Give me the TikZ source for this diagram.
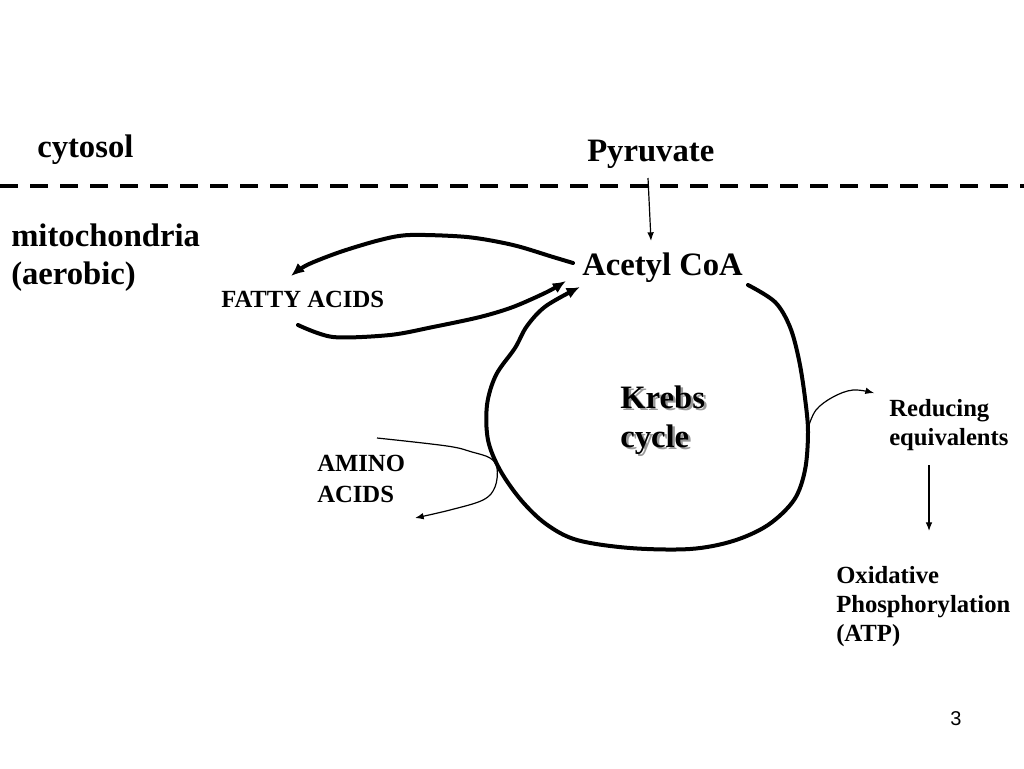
\documentclass[tikz,border=0pt]{standalone}
\usepackage{fontspec}
\setmainfont{Liberation Serif}
\newfontfamily\pagefont{Liberation Sans}
\usetikzlibrary{arrows.meta}

\newcommand{\shadowed}[1]{\makebox[0pt][l]{\kern1.9pt\raisebox{-1.9pt}{\color{black!40}#1}}#1}

\tikzset{
  bigtext/.style={inner sep=0pt, anchor=base west, align=left, font=\bfseries\fontsize{24.5}{28.5}\selectfont},
  smalltext/.style={inner sep=0pt, anchor=base west, align=left, font=\bfseries\fontsize{18.5}{21.75}\selectfont},
  heavy/.style={line width=3pt, line cap=round, line join=round},
  heavyarrow/.style={heavy, -{Latex[length=10pt,width=8.5pt]}},
  thinarrow/.style={line width=0.9pt, -{Latex[length=6.5pt,width=5pt]}},
}

\begin{document}
\begin{tikzpicture}[x=0.75pt,y=0.75pt,yscale=-1,xscale=1]
\useasboundingbox (0,0) rectangle (1024,768);

% membrane
\draw [line width=3pt, dash pattern=on 13.5pt off 9pt] (0,186) -- (1024,186);

% Text Nodes (base = last line)
\node [bigtext] (cytosol) at (37,157) {cytosol};
\node [bigtext] (mito) at (11,284) {mitochondria\\(aerobic)};
\node [bigtext] (pyruvate) at (587,161) {Pyruvate};
\node [bigtext] (acetyl) at (582,275) {Acetyl CoA};
\node [smalltext] (fatty) at (221,307) {FATTY ACIDS};
\node [bigtext, font=\bfseries\fontsize{24.5}{29}\selectfont] (krebs) at (620,447) {\shadowed{Krebs}\\\shadowed{cycle}};
\node [smalltext, font=\bfseries\fontsize{18.5}{23}\selectfont] (amino) at (317,502) {AMINO\\ACIDS};
\node [smalltext] (reducing) at (889,445) {Reducing\\equivalents};
\node [smalltext] (oxphos) at (836,641) {Oxidative\\Phosphorylation\\(ATP)};
\node [inner sep=0pt, anchor=base, font=\pagefont\fontsize{15}{18}\selectfont] (pagenum) at (956,725) {3};

% connector ends
\coordinate (pyr out) at (648,178);
\coordinate (acetyl in) at (651,241);
\coordinate (red out) at (929,465);
\coordinate (oxphos in) at (929,531);

% Pyruvate to Acetyl CoA
\draw [thinarrow] (pyr out) -- (acetyl in);

% Krebs cycle
\draw [heavyarrow] plot [smooth, tension=0.55] coordinates {(748,285) (775,302) (790,327) (799,360) (805,398) (808,432) (805,470) (794,500) (768,525) (733,541) (690,549) (630,548) (577,540) (546,524) (521,500) (500,470) (488,440) (487,405) (496,375) (515,348) (527,326) (546,306) (580,287)};

% fatty acids
\draw [heavyarrow] plot [smooth, tension=0.5] coordinates {(573,263) (553,257) (513,245) (467,237) (410,235) (380,240) (340,252) (307,265) (291,276)};
\draw [heavyarrow] plot [smooth, tension=0.5] coordinates {(298,325) (333,337) (390,335) (433,327) (480,317) (513,307) (547,292) (566,281)};

% amino acids
\draw [thinarrow] plot [smooth, tension=0.6] coordinates {(377,438) (447,446) (472,452) (490,458) (497,468) (495,487) (483,500) (450,510) (415,518)};

% reducing equivalents
\draw [thinarrow] plot [smooth, tension=0.6] coordinates {(808,428) (816,410) (833,397) (853,390) (874,393)};
\draw [thinarrow] (red out) -- (oxphos in);

\end{tikzpicture}
\end{document}
